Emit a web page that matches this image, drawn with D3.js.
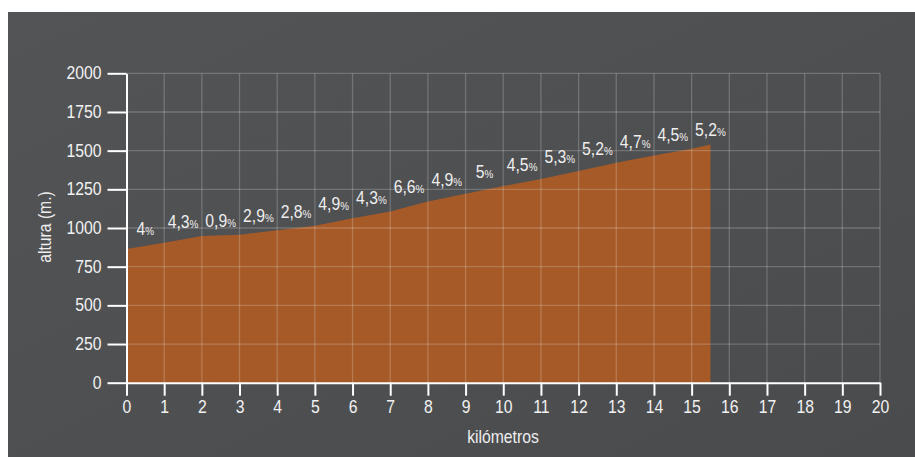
<!DOCTYPE html>
<html>
<head>
<meta charset="utf-8">
<script src="https://cdn.jsdelivr.net/npm/d3@7"></script>
<style>
  html, body { margin: 0; padding: 0; background: #ffffff; }
  svg { display: block; }
  text { font-family: "Liberation Sans", Arial, sans-serif; }
</style>
</head>
<body>
<svg id="chart" width="915" height="457"></svg>
<script>
// ---- data ----
const kilometres = [0, 1, 2, 3, 4, 5, 6, 7, 8, 9, 10, 11, 12, 13, 14, 15, 15.5];
const altitudes  = [865, 905, 948, 957, 986, 1014, 1063, 1106, 1172, 1221, 1271, 1316, 1369, 1421, 1468, 1513, 1540];
const gradients  = ["4", "4,3", "0,9", "2,9", "2,8", "4,9", "4,3", "6,6", "4,9", "5", "4,5", "5,3", "5,2", "4,7", "4,5", "5,2"];
const xTicks = d3.range(0, 21, 1);
const yTicks = [0, 250, 500, 750, 1000, 1250, 1500, 1750, 2000];
const xTitle = "kilómetros";
const yTitle = "altura (m.)";

const SX = 0.9; // horizontal condensing of text
const FONT = '"Liberation Sans", Arial, sans-serif';

const svg = d3.select("#chart");

// background panel
const defs = svg.append("defs");
const bg = defs.append("linearGradient").attr("id", "bg")
  .attr("x1", "0").attr("y1", "0").attr("x2", "1").attr("y2", "1");
bg.append("stop").attr("offset", "0%").attr("stop-color", "#535456");
bg.append("stop").attr("offset", "100%").attr("stop-color", "#4a4b4d");
svg.append("rect").attr("x", 8).attr("y", 12).attr("width", 907).attr("height", 445)
  .attr("fill", "url(#bg)");

const x = d3.scaleLinear().domain([0, 20]).range([126.5, 880]);
const y = d3.scaleLinear().domain([0, 2000]).range([382.7, 73.3]);

const pts = kilometres.map((k, i) => ({ k, a: altitudes[i] }));

// area
svg.append("path")
  .datum(pts)
  .attr("fill", "#a65a27")
  .attr("d", d3.area().x(d => x(d.k)).y0(y(0)).y1(d => y(d.a)));

// grid
const grid = svg.append("g").attr("stroke", "rgba(255,255,255,0.2)").attr("stroke-width", 1.3);
grid.selectAll("line.v").data(xTicks.filter(t => t > 0)).join("line")
  .attr("x1", d => x(d)).attr("x2", d => x(d))
  .attr("y1", y(0)).attr("y2", y(2000));
grid.selectAll("line.h").data(yTicks.filter(t => t > 0)).join("line")
  .attr("x1", x(0)).attr("x2", x(20))
  .attr("y1", d => y(d)).attr("y2", d => y(d));

// axes
const yAxis = svg.append("g").attr("transform", `translate(${x(0)},0)`)
  .call(d3.axisLeft(y).tickValues(yTicks).tickFormat(d3.format("d"))
    .tickSize(19).tickSizeOuter(0).tickPadding(6));
const xAxis = svg.append("g").attr("transform", `translate(0,${y(0)})`)
  .call(d3.axisBottom(x).tickValues(xTicks).tickFormat(d3.format("d"))
    .tickSize(13).tickSizeOuter(0).tickPadding(5));
[xAxis, yAxis].forEach(g => {
  g.select(".domain").attr("stroke", "#ffffff").attr("stroke-width", 2);
  g.selectAll(".tick line").attr("stroke", "#ffffff").attr("stroke-width", 2);
  g.selectAll(".tick text").attr("fill", "#f2f2f2").attr("font-size", 17.5)
    .style("font-family", FONT)
    .each(function () {
      const t = d3.select(this);
      const xv = +(t.attr("x") || 0);
      t.attr("x", xv / SX).attr("transform", `scale(${SX},1)`);
    });
});

// gradient labels
const lab = svg.append("g").attr("fill", "#eeeeee");
gradients.forEach((g, i) => {
  const cx = x((kilometres[i] + kilometres[i] + 1) / 2);
  const t = lab.append("text")
    .attr("x", cx / SX)
    .attr("y", y(altitudes[i + 1]) - 8)
    .attr("transform", `scale(${SX},1)`)
    .attr("text-anchor", "middle")
    .attr("font-size", 17.5);
  t.append("tspan").text(g);
  t.append("tspan").attr("font-size", 11).text("%");
});

// titles
svg.append("text").attr("transform", `translate(503,443) scale(${SX},1)`).attr("text-anchor", "middle")
  .attr("fill", "#eeeeee").attr("font-size", 17.5).text(xTitle);
svg.append("text").attr("transform", `translate(51,227) rotate(-90) scale(${SX},1)`).attr("text-anchor", "middle")
  .attr("fill", "#eeeeee").attr("font-size", 17.5).text(yTitle);
</script>
</body>
</html>
